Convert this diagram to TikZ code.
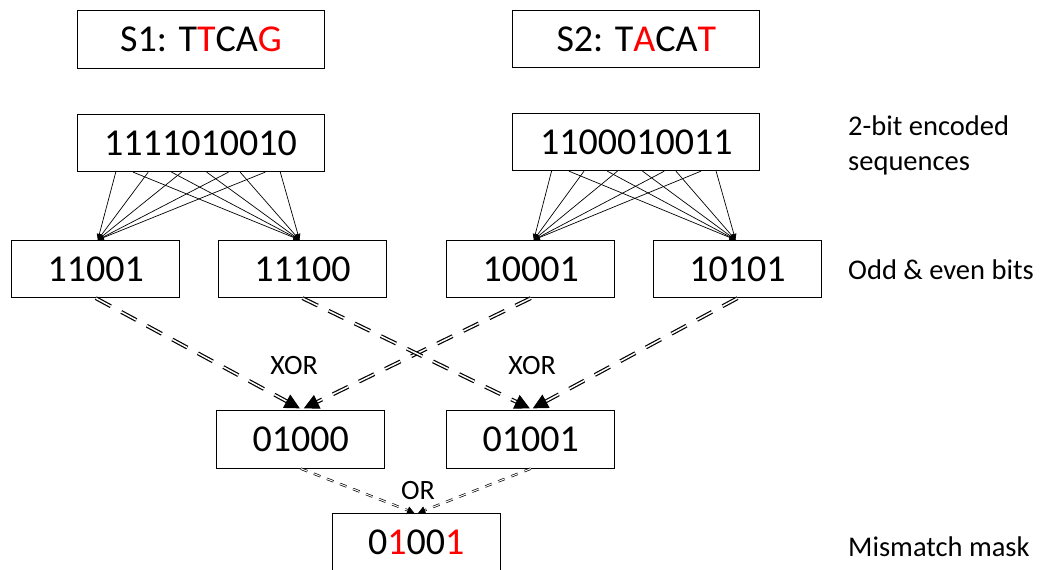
\documentclass[tikz,border=0pt]{standalone}
\usepackage{fontspec}
\setmainfont{Carlito}
\usetikzlibrary{arrows.meta,calc}

\tikzset{
  bitbox/.style={draw, line width=0.8pt, minimum height=57.5pt, inner sep=0pt,
    font=\fontsize{38}{44}\selectfont},
  widebox/.style={bitbox, minimum width=247pt},
  narrowbox/.style={bitbox, minimum width=168pt},
  sidelabel/.style={anchor=west, align=left, inner sep=0pt,
    font=\fontsize{28.5}{35}\selectfont},
  oplabel/.style={inner sep=0pt, font=\fontsize{28}{34}\selectfont},
  fanline/.style={line width=0.7pt, -{Triangle[length=6pt,width=5pt]}},
  xorline/.style={double, line width=1.2pt, double distance=1.5pt,
    dash pattern=on 17pt off 12pt, shorten >=11pt},
  xortip/.style={line width=1pt, -{Triangle[length=15pt,width=15pt]}},
  orline/.style={double, line width=0.7pt, double distance=1pt,
    dash pattern=on 7pt off 7pt, shorten >=5pt},
  ortip/.style={line width=0.6pt, -{Triangle[length=7pt,width=8pt]}},
}

\begin{document}
\begin{tikzpicture}[x=1pt,y=-1pt]
\useasboundingbox (0,0) rectangle (1041,570);

% input sequences
\node[widebox] (s1) at (201,39.5) {S1: T\textcolor{red}{T}CA\textcolor{red}{G}};
\node[widebox] (s2) at (636.3,39) {S2: T\textcolor{red}{A}CA\textcolor{red}{T}};

% 2-bit encodings
\node[widebox] (e1) at (200.5,143) {1111010010};
\node[widebox] (e2) at (636.3,142) {1100010011};

% odd and even bits
\node[narrowbox] (o1) at (95.8,269) {11001};
\node[narrowbox] (o2) at (302.5,269) {11100};
\node[narrowbox] (o3) at (530.8,269) {10001};
\node[narrowbox] (o4) at (737.5,269) {10101};

% XOR results
\node[narrowbox] (x1) at (300.8,439.5) {01000};
\node[narrowbox] (x2) at (530.8,439.5) {01001};

% OR result
\node[narrowbox] (m) at (416.2,542) {0\textcolor{red}{1}00\textcolor{red}{1}};

% side labels
\node[sidelabel] (l1) at (848,145.5) {2-bit encoded\\sequences};
\node[sidelabel] (l2) at (848,270) {Odd \& even bits};
\node[sidelabel] (l3) at (848,547) {Mismatch mask};

% operator labels
\node[oplabel] (op1) at (294,366) {XOR};
\node[oplabel] (op2) at (532,366) {XOR};
\node[oplabel] (op3) at (418,491) {OR};

% split each encoding into odd and even bit positions
\foreach \f in {0.158,0.289,0.424,0.613,0.761} {
  \draw[fanline] ($(e1.south west)!\f!(e1.south east)$) -- ($(o1.north)+(2,0)$);
  \draw[fanline] ($(e2.south west)!\f!(e2.south east)$) -- ($(o3.north)+(3,0)$);
}
\foreach \f in {0.228,0.383,0.525,0.660,0.822} {
  \draw[fanline] ($(e1.south west)!\f!(e1.south east)$) -- ($(o2.north)+(-3,0)$);
  \draw[fanline] ($(e2.south west)!\f!(e2.south east)$) -- ($(o4.north)+(-2,0)$);
}

% end points of the XOR and OR connectors
\coordinate (x1a) at ($(x1.north)+(-1,-2)$);
\coordinate (x1b) at ($(x1.north)+(3,-2)$);
\coordinate (x2a) at ($(x2.north)+(-1,-2)$);
\coordinate (x2b) at ($(x2.north)+(2,-2)$);
\coordinate (ma) at ($(m.north)+(-2,0)$);
\coordinate (mb) at ($(m.north)+(2,0)$);

% XOR of matching halves: dashed double lines with solid heads
\foreach \s/\t in {o1/x1a, o3/x1b, o2/x2a, o4/x2b} {
  \draw[xorline] (\s.south) -- (\t);
  \draw[xortip] ($(\t)!14pt!(\s.south)$) -- (\t);
}

% OR of the two XOR results
\foreach \s/\t in {x1/ma, x2/mb} {
  \draw[orline] (\s.south) -- (\t);
  \draw[ortip] ($(\t)!6pt!(\s.south)$) -- (\t);
}
\end{tikzpicture}
\end{document}
